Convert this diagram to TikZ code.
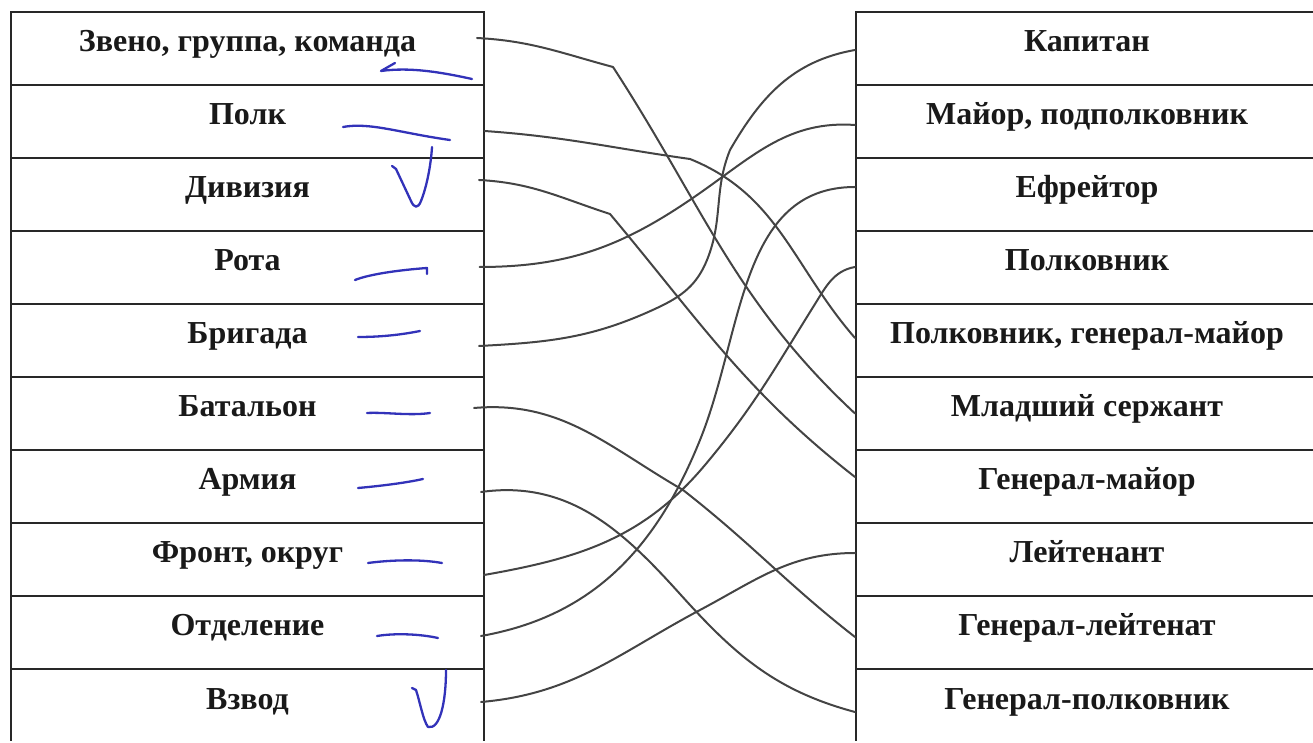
\documentclass[tikz,border=0pt]{standalone}
\usepackage{fontspec}
\setmainfont{Liberation Serif}
\usetikzlibrary{calc}
\definecolor{ink}{RGB}{50,50,185}
\definecolor{wirec}{RGB}{68,68,68}
\definecolor{framec}{RGB}{40,40,40}
\begin{document}
\begin{tikzpicture}[x=1bp,y=1bp,
  cell/.style={draw=framec, line width=2bp, minimum height=73bp, inner sep=0pt,
    text height=24bp, text depth=17bp, font=\bfseries\fontsize{32bp}{36bp}\selectfont, text=black!90},
  lcell/.style={cell, minimum width=472bp},
  rcell/.style={cell, minimum width=462bp},
  wire/.style={draw=wirec, line width=2bp, line cap=round},
  tick/.style={draw=ink, line width=2.3bp, line cap=round, line join=round}]
\useasboundingbox (0,0) rectangle (1313,742);
\clip (0,1.5) rectangle (1313,742);
% left column
\node[lcell] (L1)  at (247.5,693.5) {Звено, группа, команда};
\node[lcell] (L2)  at (247.5,620.5) {Полк};
\node[lcell] (L3)  at (247.5,547.5) {Дивизия};
\node[lcell] (L4)  at (247.5,474.5) {Рота};
\node[lcell] (L5)  at (247.5,401.5) {Бригада};
\node[lcell] (L6)  at (247.5,328.5) {Батальон};
\node[lcell] (L7)  at (247.5,255.5) {Армия};
\node[lcell] (L8)  at (247.5,182.5) {Фронт, округ};
\node[lcell] (L9)  at (247.5,109.5) {Отделение};
\node[lcell] (L10) at (247.5,36.5)  {Взвод};
% right column
\node[rcell] (R1)  at (1087,693.5) {Капитан};
\node[rcell] (R2)  at (1087,620.5) {Майор, подполковник};
\node[rcell] (R3)  at (1087,547.5) {Ефрейтор};
\node[rcell] (R4)  at (1087,474.5) {Полковник};
\node[rcell] (R5)  at (1087,401.5) {Полковник, генерал-майор};
\node[rcell] (R6)  at (1087,328.5) {Младший сержант};
\node[rcell] (R7)  at (1087,255.5) {Генерал-майор};
\node[rcell] (R8)  at (1087,182.5) {Лейтенант};
\node[rcell] (R9)  at (1087,109.5) {Генерал-лейтенат};
\node[rcell] (R10) at (1087,36.5)  {Генерал-полковник};
% connectors
\draw[wire] ($(L1.east)+(-7.5,10.5)$) to[out=-3,in=165] (613,675) to[out=-57,in=137] (R6.west);
\draw[wire] ($(L2.east)+(0,-9.5)$) to[out=-4,in=172] (690,583) to[out=-22,in=131] ($(R5.west)+(0,2.5)$);
\draw[wire] ($(L3.east)+(-5.5,14.5)$) to[out=-3,in=162] (610,528) to[out=-50,in=142] ($(R7.west)+(0,9.5)$);
\draw[wire] ($(L4.east)+(-5,0.5)$) to[out=0,in=-145] (700,549) to[out=35,in=176] ($(R2.west)+(0,-3.5)$);
\draw[wire] ($(L5.east)+(-5.5,-5.5)$) to[out=3,in=-155] (657,434) to[out=25,in=-112] (707,482) to[out=68,in=-112] (730,592) to[out=60,in=-170] ($(R1.west)+(0,-1.5)$);
\draw[wire] ($(L6.east)+(-10.5,5.5)$) to[out=5,in=150] (683,252) to[out=-38,in=142] ($(R9.west)+(0,-4.5)$);
\draw[wire] ($(L7.east)+(-3.5,-5.5)$) to[out=8,in=132] (680,148) to[out=-48,in=165] ($(R10.west)+(0,-6.5)$);
\draw[wire] ($(L8.east)+(-0.5,-15.5)$) to[out=10,in=-130] (705,277) to[out=50,in=-122] (815,438) to[out=58,in=-170] ($(R4.west)+(0,0.5)$);
\draw[wire] ($(L9.east)+(-3.5,-3.5)$) to[out=10,in=-112] (700,302) to[out=68,in=180] ($(R3.west)+(0,7.5)$);
\draw[wire] ($(L10.east)+(-3.5,3.5)$) to[out=5,in=-152] (700,132) to[out=28,in=180] ($(R8.west)+(0,6.5)$);
% handwritten marks
\draw[tick] (395,679) -- (381,671) .. controls (410,675) and (440,670) .. (472,663);
\draw[tick] (343,615) .. controls (370,620) and (400,609) .. (450,602);
\draw[tick] (392,576) -- (396,573) -- (411,541) .. controls (414,534) and (418,533) .. (421,541) .. controls (427,556) and (431,578) .. (432,595);
\draw[tick] (355,462) .. controls (370,468) and (400,472) .. (427,474) -- (427,468);
\draw[tick] (358,405) .. controls (380,405) and (400,407) .. (420,411);
\draw[tick] (367,329) .. controls (385,330) and (410,326) .. (430,329);
\draw[tick] (358,254) .. controls (380,256) and (405,259) .. (423,263);
\draw[tick] (368,179) .. controls (390,182) and (420,183) .. (442,179);
\draw[tick] (377,106) .. controls (395,109) and (420,108) .. (438,104);
\draw[tick] (412,54) -- (416,52) .. controls (420,40) and (423,22) .. (428,15) .. controls (440,12) and (446,40) .. (446,72);
\end{tikzpicture}
\end{document}
